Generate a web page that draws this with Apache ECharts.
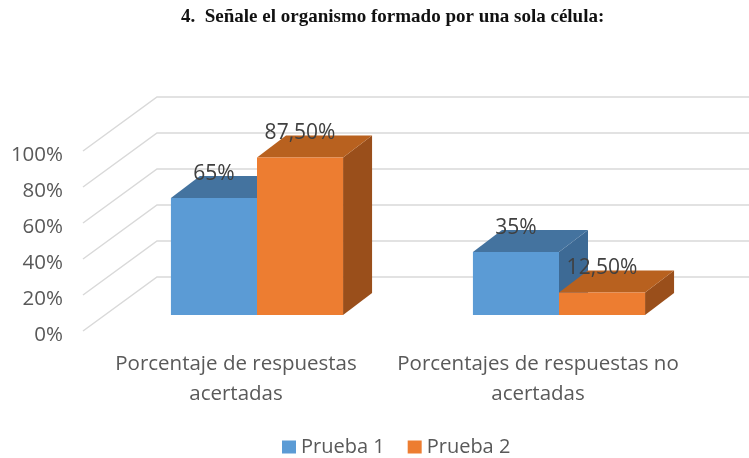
<!DOCTYPE html>
<html>
<head>
<meta charset="utf-8">
<title>Señale el organismo</title>
<style>
  html, body { margin: 0; padding: 0; background: #fff; }
  #chart { width: 749px; height: 458px; }
</style>
<script src="https://cdn.jsdelivr.net/npm/echarts@6/dist/echarts.min.js"></script>
</head>
<body>
<div id="chart"></div>
<script>
var titleText = '4.  Señale el organismo formado por una sola célula:';
var categories = ['Porcentaje de respuestas\nacertadas', 'Porcentajes de respuestas no\nacertadas'];
var yTicks = [0, 20, 40, 60, 80, 100];
var prueba1 = [65, 35];
var prueba2 = [87.5, 12.5];
var prueba1Labels = ['65%', '35%'];
var prueba2Labels = ['87,50%', '12,50%'];

// fake 3D: pixel offsets from the axis plane
var WALL_DX = 74, WALL_DY = -54;   // axis plane -> back wall
var FLOOR_DX = 23, FLOOR_DY = -16; // axis plane -> front face of the bars
var DEPTH_DX = 29, DEPTH_DY = -22; // front face -> back face of the bars
var BAR_RATIO = 0.285;             // bar width / category band

var FONT = '"Open Sans", sans-serif';

function poly(points, color) {
  return { type: 'polygon', shape: { points: points }, style: { fill: color } };
}

// one renderItem per series, side = -1 left of the band centre, 0 right of it
function barRenderer(side, labels, front, top, right) {
  return function (params, api) {
    var idx = api.value(0);
    var base = api.coord([idx, 0]);
    var head = api.coord([idx, api.value(1)]);
    var w = api.size([1, 0])[0] * BAR_RATIO;
    var x0 = base[0] + FLOOR_DX + side * w;
    var x1 = x0 + w;
    var y0 = base[1] + FLOOR_DY;
    var y1 = head[1] + FLOOR_DY;
    return {
      type: 'group',
      children: [
        poly([[x1, y0], [x1 + DEPTH_DX, y0 + DEPTH_DY], [x1 + DEPTH_DX, y1 + DEPTH_DY], [x1, y1]], right),
        poly([[x0, y1], [x1, y1], [x1 + DEPTH_DX, y1 + DEPTH_DY], [x0 + DEPTH_DX, y1 + DEPTH_DY]], top),
        poly([[x0, y0], [x1, y0], [x1, y1], [x0, y1]], front),
        {
          type: 'text',
          z2: 10,
          style: {
            x: (x0 + x1) / 2,
            y: y1 - 24,
            text: labels[idx],
            fill: '#404040',
            font: '21px ' + FONT,
            align: 'center',
            verticalAlign: 'middle'
          }
        }
      ]
    };
  };
}

// side wall diagonals and back wall lines
function wallRenderer(params, api) {
  var sys = params.coordSys;
  var y = api.coord([0, api.value(1)])[1];
  return {
    type: 'polyline',
    shape: { points: [[sys.x, y], [sys.x + WALL_DX, y + WALL_DY], [sys.x + sys.width + WALL_DX, y + WALL_DY]] },
    style: { fill: null, stroke: '#D9D9D9', lineWidth: 1.5 }
  };
}

function toPairs(values) {
  return values.map(function (v, i) { return [i, v]; });
}

var chart = echarts.init(document.getElementById('chart'));
chart.setOption({
  animation: false,
  backgroundColor: '#ffffff',
  title: {
    text: titleText,
    left: 176,
    top: 3,
    textStyle: { fontFamily: '"Liberation Serif", serif', fontSize: 19, fontWeight: 'bold', color: '#111111' }
  },
  grid: { left: 83, top: 151, width: 604, height: 180, containLabel: false },
  legend: {
    data: ['Prueba 1', 'Prueba 2'],
    left: 277,
    top: 432,
    icon: 'rect',
    itemWidth: 14,
    itemHeight: 13,
    itemGap: 23,
    textStyle: { fontFamily: FONT, fontSize: 20, color: '#595959' }
  },
  xAxis: {
    type: 'category',
    data: categories,
    axisLine: { show: false },
    axisTick: { show: false },
    axisLabel: {
      interval: 0,
      margin: 18,
      // rich text only so the padding is honoured, labels sit a little right of the band centre
      formatter: function (value) {
        return value.split('\n').map(function (s) { return '{c|' + s + '}'; }).join('\n');
      },
      rich: {
        c: { fontFamily: FONT, fontSize: 20.5, color: '#595959', lineHeight: 30, padding: [0, 0, 0, 4] }
      }
    }
  },
  yAxis: {
    type: 'value',
    min: 0,
    max: 100,
    interval: 20,
    splitLine: { show: false },
    axisLine: { show: false },
    axisTick: { show: false },
    axisLabel: {
      margin: 20,
      formatter: '{v|{value}%}',
      rich: {
        v: { fontFamily: FONT, fontSize: 20.5, color: '#595959', padding: [8, 0, 0, 0] }
      }
    }
  },
  series: [
    {
      type: 'custom',
      name: 'paredes',
      z: 1,
      silent: true,
      clip: false,
      data: yTicks.map(function (v) { return [0, v]; }),
      renderItem: wallRenderer
    },
    {
      type: 'custom',
      name: 'Prueba 1',
      z: 2,
      silent: true,
      itemStyle: { color: '#5B9BD5' },
      data: toPairs(prueba1),
      renderItem: barRenderer(-1, prueba1Labels, '#5B9BD5', '#44739F', '#3D6A95')
    },
    {
      type: 'custom',
      name: 'Prueba 2',
      z: 3,
      silent: true,
      itemStyle: { color: '#ED7D31' },
      data: toPairs(prueba2),
      renderItem: barRenderer(0, prueba2Labels, '#ED7D31', '#B8611F', '#9A4F1B')
    }
  ]
});
</script>
</body>
</html>
